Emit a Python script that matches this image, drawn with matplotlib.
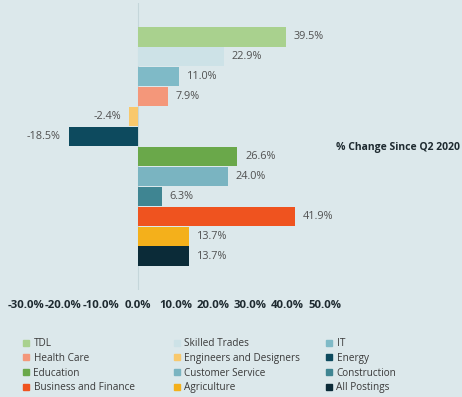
import matplotlib.pyplot as plt
from matplotlib.lines import Line2D

# Data
categories = ["TDL", "Skilled Trades", "IT", "Health Care", "Engineers and Designers",
              "Energy", "Education", "Customer Service", "Construction",
              "Business and Finance", "Agriculture", "All Postings"]
values = [39.5, 22.9, 11.0, 7.9, -2.4, -18.5, 26.6, 24.0, 6.3, 41.9, 13.7, 13.7]
colors = ["#a9d18e", "#cde2e7", "#7fbac7", "#f4977a", "#f8c86c", "#0d4a5e",
          "#6aa84a", "#7ab4c1", "#3f8592", "#ef531f", "#f4b01b", "#0b2b38"]
ticks = [-30, -20, -10, 0, 10, 20, 30, 40, 50]

bg = "#dce8eb"
W, H = 462, 397
fig = plt.figure(figsize=(W / 100, H / 100), dpi=100, facecolor=bg)
plt.rcParams['font.family'] = ['Open Sans', 'DejaVu Sans']

# axes placed so that 0% sits at x=138px
ax = fig.add_axes([25.8 / W, (H - 290) / H, 299.2 / W, 287 / H])
ax.set_facecolor(bg)

pos = list(range(len(categories)))
ax.barh(pos, values, height=0.97, color=colors, zorder=2)
ax.axvline(0, color="#c5d6da", lw=0.8, zorder=1)

for p, v in zip(pos, values):
    if v >= 0:
        ax.annotate(f"{v:.1f}%", (v, p), xytext=(5.5, 0), textcoords="offset points",
                    ha="left", va="center", fontsize=7.8, color="#505050")
    else:
        ax.annotate(f"{v:.1f}%", (v, p), xytext=(-6, 0), textcoords="offset points",
                    ha="right", va="center", fontsize=7.8, color="#505050")

ax.set_xlim(-30, 50)
ax.set_ylim(len(categories) - 1 + 1.7, -1.7)
ax.set_xticks(ticks)
ax.set_xticklabels([f"{t:.1f}%" for t in ticks], fontsize=8.2, fontweight="bold",
                   color="#1e2a30")
ax.tick_params(axis="x", length=0, pad=7)
ax.set_yticks([])
for s in ax.spines.values():
    s.set_visible(False)

fig.text(398 / W, 1 - 147 / H, "% Change Since Q2 2020", ha="center", va="center",
         fontsize=7.5, fontweight="bold", color="#1e2a30")

# legend in three columns, row-wise order
col_x = [23, 174, 326]
for c in range(3):
    idx = pos[c::3]
    handles = [Line2D([], [], marker="s", ls="", markersize=5, color=colors[i])
               for i in idx]
    fig.legend(handles, [categories[i] for i in idx], loc="upper left",
               bbox_to_anchor=(col_x[c] / W, 1 - 338 / H), frameon=False,
               fontsize=7.2, labelcolor="#3a3a3a", handlelength=0.6,
               handletextpad=0.45, labelspacing=0.38, borderpad=0, borderaxespad=0)

fig.savefig("out.png", dpi=100, facecolor=bg)
